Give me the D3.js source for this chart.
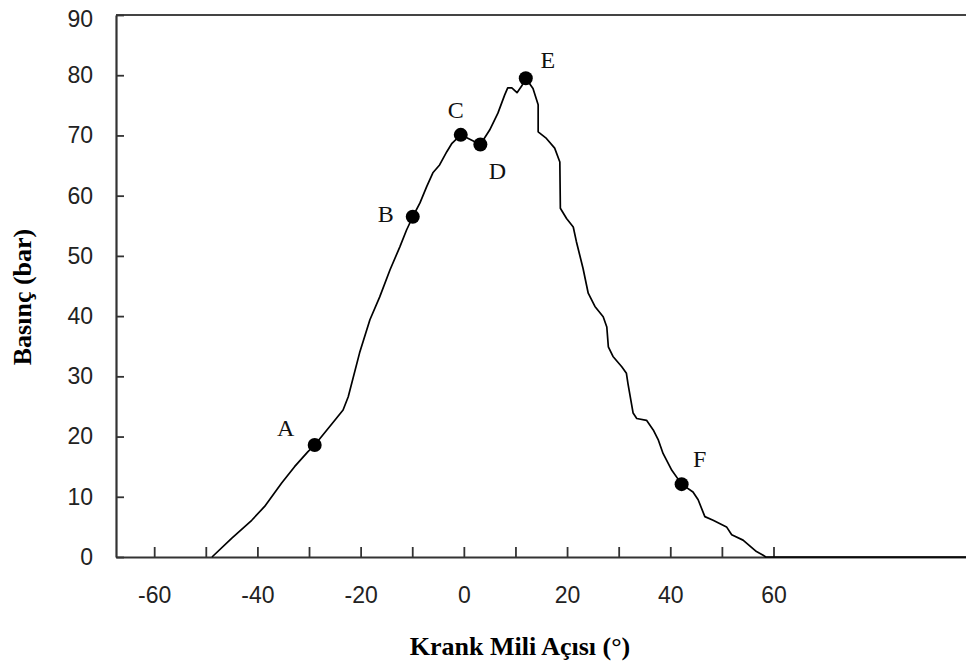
<!DOCTYPE html>
<html>
<head>
<meta charset="utf-8">
<script src="https://cdn.jsdelivr.net/npm/d3@7"></script>
<style>
  html, body { margin: 0; padding: 0; background: #fff; }
  svg { display: block; }
</style>
</head>
<body>
<svg id="chart" width="966" height="671"></svg>
<script>
// Crank angle (degrees) and cylinder pressure (bar) along the trace
const angle = [
  -48.8, -45.0, -41.1, -38.6, -35.3, -32.8, -30.2, -28.9, -25.0, -23.4,
  -22.4, -20.2, -18.2, -16.3, -14.3, -12.4, -11.1, -9.9, -8.5, -7.2,
  -6.0, -4.7, -3.3, -2.3, -0.6, 3.2, 5.0, 6.6, 7.9, 8.5,
  9.3, 10.3, 11.2, 12.0, 13.4, 14.4, 14.4, 16.0, 17.6, 18.6,
  18.7, 19.9, 21.2, 21.8, 23.1, 24.1, 25.4, 27.0, 27.7, 28.0,
  28.9, 30.6, 31.5, 31.8, 32.8, 33.5, 35.4, 36.7, 37.7, 38.6,
  40.3, 42.2, 44.4, 45.4, 46.7, 48.3, 50.9, 51.9, 54.1, 56.7,
  58.0, 58.5, 97.3
];
const pressure = [
  0.0, 3.1, 6.1, 8.4, 12.3, 15.0, 17.5, 18.6, 22.7, 24.4,
  26.6, 33.9, 39.4, 43.2, 47.7, 51.5, 54.3, 56.5, 58.8, 61.5,
  63.8, 65.1, 67.3, 68.7, 70.1, 68.5, 70.9, 73.7, 76.7, 77.9,
  77.9, 77.1, 78.2, 79.5, 77.8, 75.1, 70.6, 69.5, 67.9, 65.6,
  57.9, 56.2, 54.8, 52.4, 47.9, 43.8, 41.6, 39.9, 38.2, 34.9,
  33.3, 31.6, 30.5, 28.8, 23.9, 23.0, 22.7, 21.1, 19.4, 17.2,
  14.4, 12.1, 10.8, 9.5, 6.7, 6.1, 5.0, 3.7, 2.8, 0.9,
  0.3, 0.0, 0.0
];

// Marked points on the trace
const pointLabels = ["A", "B", "C", "D", "E", "F"];
const pointAngle = [-28.9, -9.9, -0.6, 3.2, 12.0, 42.2];
const pointPressure = [18.6, 56.5, 70.1, 68.5, 79.5, 12.1];

// Axis ticks
const xTicks = [-60, -50, -40, -30, -20, -10, 0, 10, 20, 30, 40, 50, 60];
const xTickLabels = ["-60", "", "-40", "", "-20", "", "0", "", "20", "", "40", "", "60"];
const yTicks = [0, 10, 20, 30, 40, 50, 60, 70, 80, 90];

const xTitle = "Krank Mili Açısı (°)";
const yTitle = "Basınç (bar)";

// Label placement around each marker (pixels)
const labelOffset = [[-29, -17], [-27, -3], [-5, -25], [17, 27], [22, -18], [18, -25]];

const margin = { top: 15, left: 116 };
const plotW = 850, plotH = 542;

const svg = d3.select("#chart");
const g = svg.append("g").attr("transform", `translate(${margin.left},${margin.top})`);

const x = d3.scaleLinear().domain([-67.4, 97.3]).range([0, plotW]);
const y = d3.scaleLinear().domain([0, 90]).range([plotH, 0]);

const axisColor = "#333";
const tickFont = "'Liberation Sans', Arial, sans-serif";

// Top frame line
g.append("line")
  .attr("x1", 0).attr("x2", plotW)
  .attr("y1", 0).attr("y2", 0)
  .attr("stroke", "#444").attr("stroke-width", 2.2);

// X axis
const xAxis = g.append("g")
  .attr("transform", `translate(0,${plotH})`)
  .call(d3.axisBottom(x)
    .tickValues(xTicks)
    .tickFormat((d, i) => xTickLabels[i])
    .tickSizeInner(-10)
    .tickSizeOuter(0)
    .tickPadding(30));
xAxis.select(".domain").attr("stroke", axisColor).attr("stroke-width", 2.2);
xAxis.selectAll(".tick line").attr("stroke", axisColor).attr("stroke-width", 1.8);
xAxis.selectAll(".tick text")
  .attr("fill", "#222")
  .style("font-family", tickFont)
  .style("font-size", "23px");

// Y axis
const yAxis = g.append("g")
  .call(d3.axisLeft(y)
    .tickValues(yTicks)
    .tickFormat(d3.format("d"))
    .tickSizeInner(-8)
    .tickSizeOuter(0)
    .tickPadding(23));
yAxis.select(".domain").attr("stroke", axisColor).attr("stroke-width", 2.2);
yAxis.selectAll(".tick line").attr("stroke", axisColor).attr("stroke-width", 1.8);
yAxis.selectAll(".tick text")
  .attr("fill", "#222")
  .style("font-family", tickFont)
  .style("font-size", "23px");
yAxis.selectAll(".tick").filter(d => d === 90).select("text").attr("dy", "0.5em");

// Pressure trace
const trace = angle.map((a, i) => [a, pressure[i]]);
g.append("path")
  .datum(trace)
  .attr("fill", "none")
  .attr("stroke", "#000")
  .attr("stroke-width", 1.7)
  .attr("stroke-linejoin", "round")
  .attr("d", d3.line().x(d => x(d[0])).y(d => y(d[1])));

// Markers and their letters
const pts = pointLabels.map((l, i) => ({ label: l, a: pointAngle[i], p: pointPressure[i], off: labelOffset[i] }));
g.selectAll("circle.pt")
  .data(pts)
  .join("circle")
  .attr("class", "pt")
  .attr("cx", d => x(d.a))
  .attr("cy", d => y(d.p))
  .attr("r", 7)
  .attr("fill", "#000");

g.selectAll("text.pt-label")
  .data(pts)
  .join("text")
  .attr("class", "pt-label")
  .attr("x", d => x(d.a) + d.off[0])
  .attr("y", d => y(d.p) + d.off[1] + 8)
  .attr("text-anchor", "middle")
  .attr("fill", "#111")
  .style("font-family", "'Liberation Serif', 'Times New Roman', serif")
  .style("font-size", "24px")
  .text(d => d.label);

// Axis titles
svg.append("text")
  .attr("x", 520)
  .attr("y", 655)
  .attr("text-anchor", "middle")
  .attr("fill", "#000")
  .style("font-family", "'Liberation Serif', 'Times New Roman', serif")
  .style("font-weight", "bold")
  .style("font-size", "26px")
  .text(xTitle);

svg.append("text")
  .attr("transform", "translate(31,297) rotate(-90)")
  .attr("text-anchor", "middle")
  .attr("fill", "#000")
  .style("font-family", "'Liberation Serif', 'Times New Roman', serif")
  .style("font-weight", "bold")
  .style("font-size", "26px")
  .text(yTitle);
</script>
</body>
</html>
